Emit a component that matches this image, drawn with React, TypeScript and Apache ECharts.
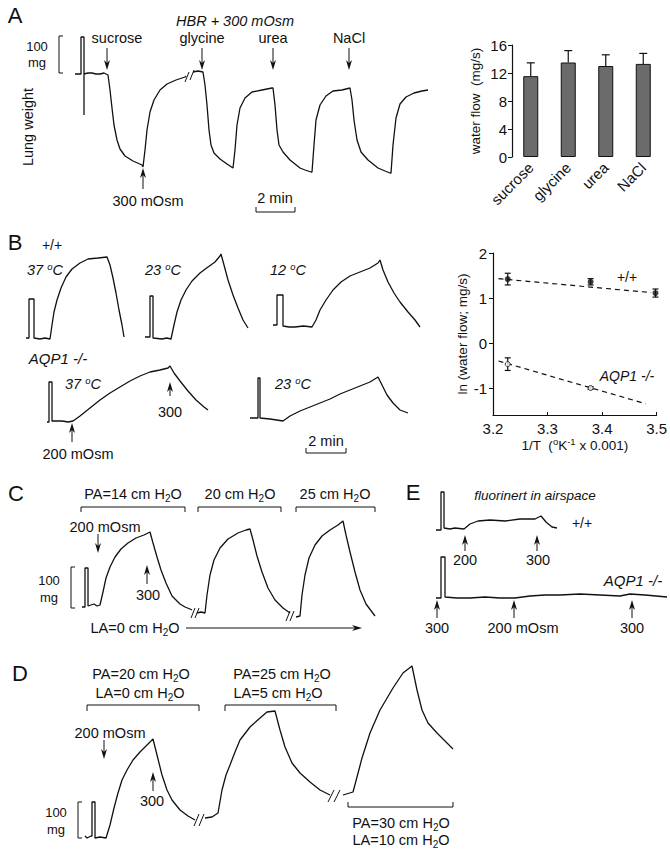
import React, { useEffect, useRef } from 'react';
import * as echarts from 'echarts';

const FONT = '"Liberation Sans", Arial, Helvetica, sans-serif';
const INK = '#111';

// ---------- Panel A (right): water flow bar chart ----------
const flowCategories = ['sucrose', 'glycine', 'urea', 'NaCl'];
const flowMeans = [11.55, 13.5, 13.0, 13.3];
const flowErrors = [1.9, 1.7, 1.6, 1.5];

// ---------- Panel B (right): Arrhenius plot ----------
const invTTicks = [3.2, 3.3, 3.4, 3.5];
const lnTicks = [-1, 0, 1, 2];
const wtInvT = [3.227, 3.379, 3.498];
const wtLnFlow = [1.42, 1.36, 1.11];
const wtErr = [0.13, 0.07, 0.09];
const koInvT = [3.227, 3.379];
const koLnFlow = [-0.47, -1.0];
const koErr = [0.14, 0.03];
const wtFitX = [3.21, 3.49];
const wtFitY = [1.43, 1.12];
const koFitX = [3.21, 3.48];
const koFitY = [-0.4, -1.35];

// ---------- Lung weight traces: [time (s), weight (mg)] ----------
const traceA1 = [[15,265],[33,265],[33,357.5],[42,357.5],[42,162.5],[42,265],[54,267.5],[66,267.5],[78,265],[90,265],[102,267.5],[114,262.5],[120,225],[126,180],[132,137.5],[141,100],[150,77.5],[165,60],[189,47.5],[216,37.5],[219,32.5],[225,75],[231,125],[240,170],[252,200],[270,225],[291,240],[318,250],[345,257.5],[348,260]];
const traceA2 = [[369,270],[384,272.5],[399,270],[405,237.5],[411,187.5],[417,125],[423,87.5],[432,67.5],[450,52.5],[471,40],[489,30],[495,75],[501,137.5],[510,180],[525,205],[546,220],[576,225],[591,227.5],[606,230],[609,230],[615,187.5],[621,125],[627,87.5],[639,70],[660,50],[690,30],[705,25],[723,20],[726,20],[732,87.5],[738,150],[750,187.5],[768,210],[789,222.5],[816,225],[840,230],[846,200],[852,150],[861,100],[873,70],[894,50],[924,30],[945,22.5],[960,17.5],[963,17.5],[969,87.5],[978,155],[990,190],[1008,207.5],[1032,217.5],[1056,222.5],[1074,225]];

const traceB37 = [[18,305],[27,305],[27,402.5],[42,402.5],[42,305],[60,302.5],[75,305],[90,302.5],[96,337.5],[102,370],[111,400],[123,430],[138,457.5],[156,477.5],[180,492.5],[204,502.5],[234,505],[261,507.5],[270,487.5],[279,455],[288,417.5],[297,375],[306,337.5],[312,307.5]];
const traceB23 = [[375,307.5],[390,307.5],[390,410],[399,410],[399,305],[426,302.5],[440,305],[453,302.5],[462,337.5],[471,370],[483,400],[498,425],[516,447.5],[540,467.5],[564,482.5],[585,495],[600,510],[603,515],[612,487.5],[624,450],[639,412.5],[654,380],[669,350],[684,330]];
const traceB12 = [[759,337.5],[771,337.5],[771,412.5],[789,412.5],[789,335],[807,332.5],[825,332.5],[850,335],[876,332.5],[888,350],[900,375],[918,400],[939,425],[963,445],[990,460],[1020,470],[1050,480],[1074,492.5],[1080,500],[1089,475],[1104,445],[1122,417.5],[1140,395],[1164,370],[1185,350],[1200,332.5]];
const traceBko37 = [[81,95],[87,95],[87,195],[96,195],[96,97.5],[126,97.5],[145,95],[159,97.5],[180,110],[210,130],[240,150],[270,167.5],[300,182.5],[330,197.5],[360,210],[390,220],[420,225],[444,230],[450,235],[462,217.5],[480,197.5],[504,172.5],[528,150],[552,132.5],[564,125]];
const traceBko23 = [[690,105],[714,105],[714,205],[720,205],[720,105],[750,102.5],[770,100],[789,97.5],[810,110],[840,122.5],[870,132.5],[900,142.5],[930,152.5],[960,165],[990,175],[1020,185],[1050,195],[1074,207.5],[1086,187.5],[1101,162.5],[1119,142.5],[1140,125],[1164,117.5]];

const traceC1 = [[36,57.5],[45,57.5],[45,155],[54,155],[54,60],[63,62.5],[72,65],[81,60],[90,62.5],[99,95],[108,130],[120,157.5],[135,182.5],[153,202.5],[174,217.5],[198,230],[222,237.5],[240,245],[249,217.5],[261,182.5],[273,150],[288,117.5],[306,85],[330,65],[345,57.5],[360,52.5],[366,50]];
const traceC2 = [[381,42.5],[393,45],[405,42.5],[411,87.5],[420,137.5],[432,175],[450,205],[474,227.5],[504,242.5],[528,250],[540,252.5],[549,225],[561,185],[576,145],[594,105],[615,75],[639,55],[660,42.5]];
const traceC3 = [[678,32.5],[690,35],[696,87.5],[705,137.5],[717,180],[735,212.5],[756,235],[780,250],[804,262.5],[819,272.5],[828,237.5],[840,195],[855,145],[870,100],[888,65],[915,35]];

const traceEwt = [[18,212.5],[33,212.5],[33,307.5],[42,307.5],[42,217.5],[60,215],[75,217.5],[102,215],[120,227.5],[144,235],[180,237.5],[225,235],[270,240],[315,240],[333,247.5],[348,232.5],[366,220],[381,217.5]];
const traceEko = [[18,42.5],[33,42.5],[33,145],[45,145],[45,45],[80,42.5],[120,42.5],[165,45],[210,42.5],[255,42.5],[300,47.5],[345,50],[390,50],[450,52.5],[510,50],[570,47.5],[600,52.5],[645,50],[711,45]];

const traceD1 = [[45,35],[51,30],[63,35],[66,35],[66,120],[75,120],[75,30],[90,32.5],[108,30],[120,62.5],[132,105],[144,142.5],[156,175],[171,200],[189,225],[210,245],[231,262.5],[249,277.5],[261,237.5],[276,187.5],[291,150],[306,125],[330,100],[354,85],[375,75]];
const traceD2 = [[405,80],[426,82.5],[444,92.5],[456,150],[468,187.5],[480,212.5],[495,245],[510,275],[540,307.5],[570,330],[591,345],[615,347.5],[630,300],[645,257.5],[666,217.5],[690,192.5],[720,170],[750,150],[780,137.5]];
const traceD3 = [[819,137.5],[849,145],[861,182.5],[876,230],[900,292.5],[930,350],[969,405],[999,442.5],[1026,460],[1041,400],[1056,350],[1074,317.5],[1101,292.5],[1131,267.5],[1149,252.5]];

const RICH: any = {
  sub: { fontSize: 10, fontFamily: FONT, fill: INK, color: INK, padding: [8, 0, 0, 0] },
  sup: { fontSize: 9.5, fontFamily: FONT, fill: INK, color: INK, padding: [0, 0, 8, 0] },
  isup: { fontSize: 9.5, fontFamily: FONT, fontStyle: 'italic', fill: INK, color: INK, padding: [0, 0, 8, 0] },
};

function buildGraphics() {
  const g: any[] = [];
  const text = (x: number, y: number, t: string, o: any = {}) => {
    g.push({
      type: 'text', x, y, rotation: o.rot || 0, silent: true,
      style: {
        text: t, fill: INK, fontFamily: FONT, fontSize: o.size || 14.5,
        fontStyle: o.italic ? 'italic' : 'normal', fontWeight: 'normal',
        align: o.align || 'center', verticalAlign: 'middle', rich: RICH,
      },
    });
  };
  const stroke = { stroke: INK, lineWidth: 1, fill: 'none' };
  const arrowV = (x: number, y1: number, y2: number) => {
    const d = y2 > y1 ? 1 : -1;
    g.push({ type: 'line', silent: true, shape: { x1: x, y1, x2: x, y2: y2 - d * 6 }, style: { stroke: INK, lineWidth: 1 } });
    g.push({ type: 'polygon', silent: true, shape: { points: [[x - 3, y2 - d * 10], [x, y2], [x + 3, y2 - d * 10], [x, y2 - d * 7]] }, style: { fill: INK } });
  };
  const arrowH = (x1: number, x2: number, y: number) => {
    g.push({ type: 'line', silent: true, shape: { x1, y1: y, x2: x2 - 6, y2: y }, style: { stroke: INK, lineWidth: 1 } });
    g.push({ type: 'polygon', silent: true, shape: { points: [[x2 - 10, y - 3], [x2, y], [x2 - 10, y + 3], [x2 - 7, y]] }, style: { fill: INK } });
  };
  const bracketH = (x1: number, x2: number, y: number, tick: number) => {
    g.push({ type: 'polyline', silent: true, shape: { points: [[x1, y + tick], [x1, y], [x2, y], [x2, y + tick]] }, style: stroke });
  };
  const bracketV = (x: number, y1: number, y2: number) => {
    g.push({ type: 'polyline', silent: true, shape: { points: [[x + 4, y1], [x, y1], [x, y2], [x + 4, y2]] }, style: stroke });
  };
  const slash = (x1: number, y1: number, x2: number, y2: number) => {
    g.push({ type: 'line', silent: true, shape: { x1, y1, x2, y2 }, style: { stroke: INK, lineWidth: 1 } });
  };

  // Panel letters
  text(15, 15, 'A', { size: 22 });
  text(15, 242, 'B', { size: 22 });
  text(16, 493, 'C', { size: 22 });
  text(20, 673, 'D', { size: 22 });
  text(413, 492, 'E', { size: 22 });

  // ----- Panel A -----
  text(235, 21, 'HBR + 300 mOsm', { italic: true });
  text(117, 38, 'sucrose');
  text(202, 38, 'glycine');
  text(273, 38, 'urea');
  text(349, 38, 'NaCl');
  arrowV(107, 48, 70);
  arrowV(202, 48, 70);
  arrowV(273, 48, 70);
  arrowV(349, 48, 70);
  text(148, 201, '300 mOsm');
  arrowV(143, 189, 168);
  text(37, 46, '100', { size: 13 });
  text(37, 62, 'mg', { size: 13 });
  bracketV(59, 36, 73);
  text(275, 198, '2 min');
  bracketH(256, 295, 212, -5);
  text(28, 127, 'Lung weight', { rot: Math.PI / 2 });
  slash(185, 82, 189, 72);
  slash(190, 80, 194, 70);

  // ----- Panel B -----
  text(52, 245, '+/+', { size: 14 });
  text(45, 270, '37 {isup|o}C', { italic: true });
  text(163, 270, '23 {isup|o}C', { italic: true });
  text(288, 270, '12 {isup|o}C', { italic: true });
  text(58, 358, 'AQP1 -/-', { italic: true, size: 15 });
  text(83, 384, '37 {isup|o}C', { italic: true });
  text(293, 384, '23 {isup|o}C', { italic: true });
  text(170, 412, '300');
  arrowV(170, 396, 382);
  text(78, 454, '200 mOsm');
  arrowV(72, 442, 423);
  text(326, 441, '2 min');
  bracketH(306, 346, 453, -5);
  text(627, 277, '+/+', { size: 14 });
  text(627, 376, 'AQP1 -/-', { italic: true, size: 14 });

  // ----- Panel C -----
  text(133, 494, 'PA=14 cm H{sub|2}O');
  bracketH(81, 185, 507, 5);
  text(240, 494, '20 cm H{sub|2}O');
  bracketH(198, 281, 507, 5);
  text(335, 494, '25 cm H{sub|2}O');
  bracketH(296, 375, 507, 5);
  text(105, 527, '200 mOsm');
  arrowV(98, 534, 553);
  text(148, 595, '300');
  arrowV(147, 584, 565);
  text(49, 580, '100', { size: 13 });
  text(49, 597, 'mg', { size: 13 });
  bracketV(71, 567, 608);
  text(135, 628, 'LA=0 cm H{sub|2}O');
  arrowH(186, 362, 628);
  slash(191, 618, 195, 608);
  slash(195, 618, 199, 608);
  slash(286, 621, 290, 611);
  slash(290, 621, 294, 611);

  // ----- Panel E -----
  text(535, 495, 'fluorinert in airspace', { italic: true, size: 13.5 });
  text(582, 523, '+/+', { size: 14 });
  text(465, 560, '200');
  arrowV(465, 551, 535);
  text(538, 560, '300');
  arrowV(537, 551, 535);
  text(633, 580, 'AQP1 -/-', { italic: true, size: 15 });
  text(437, 628, '300');
  arrowV(437, 618, 600);
  text(523, 628, '200 mOsm');
  arrowV(514, 618, 600);
  text(632, 628, '300');
  arrowV(632, 618, 600);

  // ----- Panel D -----
  text(141, 674, 'PA=20 cm H{sub|2}O');
  text(140, 693, 'LA=0 cm H{sub|2}O');
  bracketH(87, 199, 705, 6);
  text(282, 674, 'PA=25 cm H{sub|2}O');
  text(278, 693, 'LA=5 cm H{sub|2}O');
  bracketH(225, 336, 705, 6);
  bracketH(348, 453, 807, -5);
  text(401, 823, 'PA=30 cm H{sub|2}O');
  text(401, 840, 'LA=10 cm H{sub|2}O');
  text(110, 733, '200 mOsm');
  arrowV(104, 740, 759);
  text(152, 801, '300');
  arrowV(153, 791, 772);
  text(56, 812, '100', { size: 13 });
  text(56, 829, 'mg', { size: 13 });
  bracketV(78, 802, 838);
  slash(194, 826, 199, 814);
  slash(199, 826, 204, 814);
  slash(328, 802, 334, 790);
  slash(334, 802, 340, 790);

  return g;
}

function traceSeries(data: number[][], idx: number) {
  return {
    type: 'line', xAxisIndex: idx, yAxisIndex: idx, data, symbol: 'none', showSymbol: false,
    silent: true, z: 3, lineStyle: { color: INK, width: 1.3 },
  };
}

function hiddenAxis(gridIndex: number, max: number) {
  return { type: 'value', gridIndex, min: 0, max, show: false };
}

function errorBarSeries(xIdx: number, data: number[][], both: boolean, cap: number) {
  return {
    type: 'custom', xAxisIndex: xIdx, yAxisIndex: xIdx, data, silent: true, z: 4,
    renderItem: (params: any, api: any) => {
      const x = api.value(0), y = api.value(1), e = api.value(2);
      const hi = api.coord([x, y + e]);
      const lo = api.coord([x, both ? y - e : y]);
      const st = { stroke: INK, lineWidth: 1.2 };
      const children: any[] = [
        { type: 'line', shape: { x1: lo[0], y1: lo[1], x2: hi[0], y2: hi[1] }, style: st },
        { type: 'line', shape: { x1: hi[0] - cap, y1: hi[1], x2: hi[0] + cap, y2: hi[1] }, style: st },
      ];
      if (both) children.push({ type: 'line', shape: { x1: lo[0] - cap, y1: lo[1], x2: lo[0] + cap, y2: lo[1] }, style: st });
      return { type: 'group', children };
    },
  };
}

function buildOption() {
  const axisText = { color: INK, fontFamily: FONT, fontSize: 15 };
  const nameText = { color: INK, fontFamily: FONT, fontSize: 13.5, rich: RICH };
  return {
    animation: false,
    backgroundColor: '#fff',
    grid: [
      { left: 70, top: 20, width: 360, height: 160 },
      { left: 512, top: 45, width: 150, height: 112 },
      { left: 20, top: 240, width: 410, height: 220 },
      { left: 493, top: 253, width: 165, height: 162 },
      { left: 70, top: 500, width: 320, height: 130 },
      { left: 430, top: 485, width: 240, height: 130 },
      { left: 70, top: 650, width: 400, height: 200 },
    ],
    xAxis: [
      hiddenAxis(0, 1080),
      {
        type: 'category', gridIndex: 1, data: flowCategories,
        axisLine: { show: false }, axisTick: { show: false },
        axisLabel: { rotate: 45, margin: 8, color: INK, fontFamily: FONT, fontSize: 15 },
      },
      hiddenAxis(2, 1230),
      {
        type: 'value', gridIndex: 3, min: 3.2, max: 3.5,
        axisLine: { onZero: false, lineStyle: { color: INK, width: 1.2 } },
        axisTick: { show: true, inside: true, length: 3, customValues: invTTicks, lineStyle: { color: INK } },
        axisLabel: { customValues: invTTicks, formatter: (v: number) => v.toFixed(1), margin: 6, ...axisText },
        splitLine: { show: false },
        name: '1/T  ({sup|o}K{sup|-1} x 0.001)', nameLocation: 'middle', nameGap: 19,
        nameTextStyle: nameText,
      },
      hiddenAxis(4, 960),
      hiddenAxis(5, 720),
      hiddenAxis(6, 1200),
    ],
    yAxis: [
      hiddenAxis(0, 400),
      {
        type: 'value', gridIndex: 1, min: 0, max: 16, interval: 4,
        axisLine: { show: true, lineStyle: { color: INK, width: 1.2 } },
        axisTick: { show: true, length: 4, lineStyle: { color: INK } },
        axisLabel: { margin: 5, ...axisText },
        splitLine: { show: false },
        name: 'water flow  (mg/s)', nameLocation: 'middle', nameGap: 30, nameRotate: 90,
        nameTextStyle: nameText,
      },
      hiddenAxis(2, 550),
      {
        type: 'value', gridIndex: 3, min: -1.6, max: 2,
        axisLine: { show: true, onZero: false, lineStyle: { color: INK, width: 1.2 } },
        axisTick: { show: true, length: 4, customValues: lnTicks, lineStyle: { color: INK } },
        axisLabel: { customValues: lnTicks, margin: 6, ...axisText },
        splitLine: { show: false },
        name: 'ln (water flow; mg/s)', nameLocation: 'middle', nameGap: 23, nameRotate: 90,
        nameTextStyle: nameText,
      },
      hiddenAxis(4, 325),
      hiddenAxis(5, 325),
      hiddenAxis(6, 500),
    ],
    series: [
      traceSeries(traceA1, 0), traceSeries(traceA2, 0),
      traceSeries(traceB37, 2), traceSeries(traceB23, 2), traceSeries(traceB12, 2),
      traceSeries(traceBko37, 2), traceSeries(traceBko23, 2),
      traceSeries(traceC1, 4), traceSeries(traceC2, 4), traceSeries(traceC3, 4),
      traceSeries(traceEwt, 5), traceSeries(traceEko, 5),
      traceSeries(traceD1, 6), traceSeries(traceD2, 6), traceSeries(traceD3, 6),
      {
        type: 'bar', xAxisIndex: 1, yAxisIndex: 1, data: flowMeans, barWidth: 15, silent: true,
        itemStyle: { color: '#6b6b6b', borderColor: INK, borderWidth: 1 },
      },
      errorBarSeries(1, flowCategories.map((_, i) => [i, flowMeans[i], flowErrors[i]]), false, 4),
      {
        type: 'line', xAxisIndex: 3, yAxisIndex: 3, data: wtFitX.map((x, i) => [x, wtFitY[i]]),
        symbol: 'none', silent: true, lineStyle: { color: INK, width: 1.2, type: [5, 4] },
      },
      {
        type: 'line', xAxisIndex: 3, yAxisIndex: 3, data: koFitX.map((x, i) => [x, koFitY[i]]),
        symbol: 'none', silent: true, lineStyle: { color: INK, width: 1.2, type: [5, 4] },
      },
      errorBarSeries(3, wtInvT.map((x, i) => [x, wtLnFlow[i], wtErr[i]]), true, 3),
      errorBarSeries(3, koInvT.map((x, i) => [x, koLnFlow[i], koErr[i]]), true, 3),
      {
        type: 'scatter', xAxisIndex: 3, yAxisIndex: 3, data: wtInvT.map((x, i) => [x, wtLnFlow[i]]),
        symbol: 'circle', symbolSize: 6, silent: true, z: 5, itemStyle: { color: INK },
      },
      {
        type: 'scatter', xAxisIndex: 3, yAxisIndex: 3, data: koInvT.map((x, i) => [x, koLnFlow[i]]),
        symbol: 'circle', symbolSize: 5, silent: true, z: 5,
        itemStyle: { color: '#fff', borderColor: INK, borderWidth: 1 },
      },
    ],
    graphic: buildGraphics(),
  };
}

export default function App() {
  const ref = useRef<HTMLDivElement>(null);
  useEffect(() => {
    const chart = echarts.init(ref.current!, null, { renderer: 'svg' });
    chart.setOption(buildOption() as any);
    return () => chart.dispose();
  }, []);
  return (
    <div
      ref={ref}
      style={{ position: 'fixed', left: 0, top: 0, width: 670, height: 853, background: '#fff' }}
    />
  );
}
